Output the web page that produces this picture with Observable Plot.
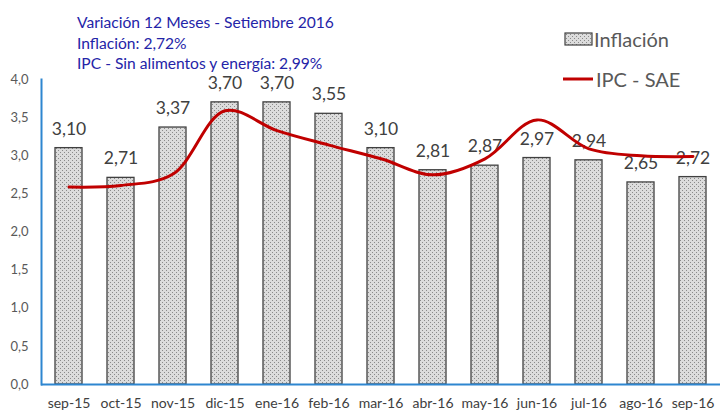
<!DOCTYPE html>
<html>
<head>
<meta charset="utf-8">
<script src="https://cdn.jsdelivr.net/npm/d3@7"></script>
<script src="https://cdn.jsdelivr.net/npm/@observablehq/plot@0.6"></script>
<style>
  html, body { margin: 0; padding: 0; background: #fff; }
  #wrap { position: relative; width: 720px; height: 412px; font-family: Lato, "Open Sans", sans-serif; }
  #title { position: absolute; left: 77px; top: 12px; color: #2424a8; font-size: 15.6px; line-height: 20.5px; }
  .leg { position: absolute; color: #595959; font-size: 20px; line-height: 20px; }
  .sw { position: absolute; }
</style>
</head>
<body>
<div id="wrap">
  <div id="chart"></div>
  <div id="title">
    <div>Variación 12 Meses - Setiembre 2016</div>
    <div>Inflación: 2,72%</div>
    <div>IPC - Sin alimentos y energía: 2,99%</div>
  </div>
  <svg class="sw" style="left:564px;top:32px" width="30" height="15"><rect x="1" y="1" width="27" height="12" fill="url(#dotsLeg)" stroke="#404040" stroke-width="1.2"/>
    <defs><pattern id="dotsLeg" patternUnits="userSpaceOnUse" width="4" height="4"><rect width="4" height="4" fill="#dcdcdc"/><rect x="0" y="0" width="1" height="1" fill="#8a8a8a"/><rect x="2" y="2" width="1" height="1" fill="#8a8a8a"/></pattern></defs></svg>
  <div class="leg" style="left:594px;top:29px">Inflación</div>
  <svg class="sw" style="left:563px;top:77px" width="31" height="4"><line x1="0" y1="2" x2="30" y2="2" stroke="#c00000" stroke-width="3"/></svg>
  <div class="leg" style="left:596px;top:69px">IPC - SAE</div>
</div>
<script>
const months = ["sep-15","oct-15","nov-15","dic-15","ene-16","feb-16","mar-16","abr-16","may-16","jun-16","jul-16","ago-16","sep-16"];
const inflacion = [3.10, 2.71, 3.37, 3.70, 3.70, 3.55, 3.10, 2.81, 2.87, 2.97, 2.94, 2.65, 2.72];
const ipcSae = [2.59, 2.61, 2.76, 3.59, 3.33, 3.14, 2.96, 2.75, 2.96, 3.47, 3.09, 3.00, 2.99];
const yTicks = [0, 0.5, 1, 1.5, 2, 2.5, 3, 3.5, 4];

const loc = d3.formatLocale({decimal: ",", thousands: ".", grouping: [3], currency: ["", ""]});
const f1 = loc.format(".1f");
const f2 = loc.format(".2f");

const bars = months.map((m, i) => ({month: m, value: inflacion[i]}));
const line = months.map((m, i) => ({month: m, value: ipcSae[i]}));

const blue = "#2e86d0";

const chart = Plot.plot({
  width: 720,
  height: 412,
  marginLeft: 41,
  marginRight: 0,
  marginTop: 79,
  marginBottom: 28,
  style: {fontFamily: "Lato, 'Open Sans', sans-serif", background: "transparent"},
  x: {domain: months, paddingInner: 0.48, paddingOuter: 0.24, label: null},
  y: {domain: [0, 4], label: null},
  marks: [
    Plot.axisY({ticks: yTicks, tickFormat: f1, tickSize: 0, tickPadding: 13, fontSize: 13, fill: "#595959", label: null}),
    Plot.axisX({tickSize: 0, tickPadding: 14, fontSize: 14, fill: "#404040", label: null}),
    Plot.barY(bars, {x: "month", y: "value", fill: "url(#dots)", stroke: "#404040", strokeWidth: 1.3}),
    Plot.text(bars, {x: "month", y: "value", text: d => f2(d.value), dy: -19, fontSize: 17.5, fill: "#404040"}),
    Plot.lineY(line, {x: "month", y: "value", stroke: "#c00000", strokeWidth: 3, curve: "catmull-rom"}),
    Plot.ruleY([0], {stroke: blue, strokeWidth: 2}),
    Plot.frame({anchor: "left", stroke: blue, strokeWidth: 2})
  ]
});

const svg = d3.select(chart);
const defs = svg.insert("defs", ":first-child");
const pat = defs.append("pattern").attr("id", "dots").attr("patternUnits", "userSpaceOnUse").attr("width", 4).attr("height", 4);
pat.append("rect").attr("width", 4).attr("height", 4).attr("fill", "#dcdcdc");
pat.append("rect").attr("x", 0).attr("y", 0).attr("width", 1).attr("height", 1).attr("fill", "#8a8a8a");
pat.append("rect").attr("x", 2).attr("y", 2).attr("width", 1).attr("height", 1).attr("fill", "#8a8a8a");

document.getElementById("chart").appendChild(chart);
</script>
</body>
</html>
